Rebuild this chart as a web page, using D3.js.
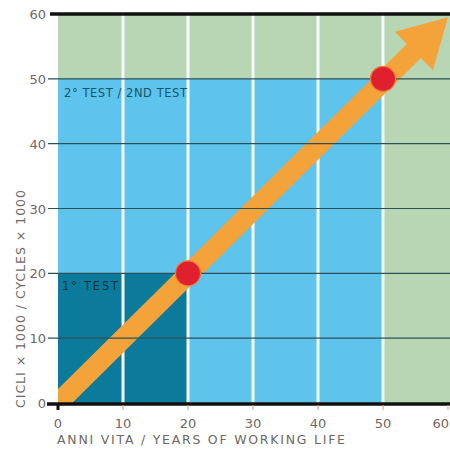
<!DOCTYPE html>
<html>
<head>
<meta charset="utf-8">
<script src="https://cdn.jsdelivr.net/npm/d3@7"></script>
<style>
  body { margin: 0; background: #fff; }
  svg { display: block; font-family: 'DejaVu Sans', 'Liberation Sans', Arial, sans-serif; }
</style>
</head>
<body>
<div id="chart"></div>
<script>
// data
const xTicks = [0, 10, 20, 30, 40, 50, 60];
const yTicks = [0, 10, 20, 30, 40, 50, 60];
const testNames = ['1° TEST', '2° TEST / 2ND TEST'];
const testYears = [20, 50];
const testCycles = [20, 50];
const arrowFrom = [0, 0];
const arrowTo = [60, 59.5];

const width = 450;
const height = 454;

const x = d3.scaleLinear().domain([0, 60]).range([58, 448]);
const y = d3.scaleLinear().domain([0, 60]).range([403, 14]);

const svg = d3
  .select('#chart')
  .append('svg')
  .attr('width', width)
  .attr('height', height);

svg.append('defs')
  .append('clipPath')
  .attr('id', 'plot')
  .append('rect')
  .attr('x', x(0))
  .attr('y', y(60))
  .attr('width', x(60) - x(0) + 10)
  .attr('height', y(0) - y(60));

const plot = svg.append('g').attr('clip-path', 'url(#plot)');

// background: green everywhere, blue up to 2nd test, dark up to 1st test
plot.append('rect')
  .attr('x', x(0)).attr('y', y(60))
  .attr('width', x(60) - x(0) + 10).attr('height', y(0) - y(60))
  .attr('fill', '#b8d6b4');

const shades = ['#0c7b9b', '#5fc4ec'];
plot.selectAll('rect.zone')
  .data(d3.range(testYears.length).reverse())
  .join('rect')
  .attr('class', 'zone')
  .attr('x', x(0))
  .attr('y', (i) => y(testCycles[i]))
  .attr('width', (i) => x(testYears[i]) - x(0))
  .attr('height', (i) => y(0) - y(testCycles[i]))
  .attr('fill', (i) => shades[i]);

// white vertical grid
plot.selectAll('line.vgrid')
  .data(xTicks.filter((d) => d > 0 && d < 60))
  .join('line')
  .attr('class', 'vgrid')
  .attr('x1', (d) => x(d)).attr('x2', (d) => x(d))
  .attr('y1', y(60)).attr('y2', y(0))
  .attr('stroke', '#f4fbfd')
  .attr('stroke-width', 3);

// dark horizontal grid incl. left ticks
svg.selectAll('line.hgrid')
  .data(yTicks.filter((d) => d > 0 && d < 60))
  .join('line')
  .attr('class', 'hgrid')
  .attr('x1', 48).attr('x2', width)
  .attr('y1', (d) => y(d)).attr('y2', (d) => y(d))
  .attr('stroke', '#2d5058')
  .attr('stroke-width', 1.2);

// tests labels
const labelPos = [[62, y(20) + 17], [64, y(50) + 18]];
svg.selectAll('text.test')
  .data(testNames)
  .join('text')
  .attr('class', 'test')
  .attr('x', (d, i) => labelPos[i][0])
  .attr('y', (d, i) => labelPos[i][1])
  .attr('fill', (d, i) => (i === 0 ? '#0b3542' : '#14566a'))
  .attr('font-size', 11.5)
  .attr('textLength', (d, i) => (i === 0 ? 56 : 123))
  .text((d) => d);

// arrow
const p0 = [x(arrowFrom[0]), y(arrowFrom[1])];
const p1 = [x(arrowTo[0]), y(arrowTo[1])];
const dx = p1[0] - p0[0], dy = p1[1] - p0[1];
const len = Math.hypot(dx, dy);
const ux = dx / len, uy = dy / len;
const headLen = 48, headHalf = 27, shaftHalf = 10;
const bx = p1[0] - ux * headLen, by = p1[1] - uy * headLen;
const nx = -uy, ny = ux;
const pts = [
  [p0[0] - ux * 20 + nx * shaftHalf, p0[1] - uy * 20 + ny * shaftHalf],
  [bx + nx * shaftHalf, by + ny * shaftHalf],
  [bx + nx * headHalf, by + ny * headHalf],
  p1,
  [bx - nx * headHalf, by - ny * headHalf],
  [bx - nx * shaftHalf, by - ny * shaftHalf],
  [p0[0] - ux * 20 - nx * shaftHalf, p0[1] - uy * 20 - ny * shaftHalf],
];
plot.append('path')
  .attr('d', d3.line()(pts) + 'Z')
  .attr('fill', '#f4a23a');

// red test points
svg.selectAll('circle')
  .data(testYears)
  .join('circle')
  .attr('cx', (d) => x(d))
  .attr('cy', (d, i) => y(testCycles[i]))
  .attr('r', 12.5)
  .attr('fill', '#e0202f')
  .attr('stroke', '#ec7a3a')
  .attr('stroke-width', 1.2);

// top and bottom black rules
svg.append('line')
  .attr('x1', 50).attr('x2', width)
  .attr('y1', y(60)).attr('y2', y(60))
  .attr('stroke', '#111').attr('stroke-width', 3.5);
svg.append('line')
  .attr('x1', 47).attr('x2', width)
  .attr('y1', y(0) + 1).attr('y2', y(0) + 1)
  .attr('stroke', '#111').attr('stroke-width', 3.5);

// x ticks
svg.selectAll('line.xtick')
  .data(xTicks)
  .join('line')
  .attr('class', 'xtick')
  .attr('x1', (d) => x(d)).attr('x2', (d) => x(d))
  .attr('y1', y(0) + 2).attr('y2', y(0) + 7)
  .attr('stroke', (d) => (d === 0 ? '#111' : '#c9a08a'))
  .attr('stroke-width', (d) => (d === 0 ? 3 : 1));

const tickColor = '#6e6863';
svg.selectAll('text.xlab')
  .data(xTicks)
  .join('text')
  .attr('class', 'xlab')
  .attr('x', (d) => (d === 60 ? width - 1 : x(d)))
  .attr('y', y(0) + 25)
  .attr('text-anchor', (d) => (d === 60 ? 'end' : 'middle'))
  .attr('fill', tickColor)
  .attr('font-size', 13)
  .text((d) => d);

svg.selectAll('text.ylab')
  .data(yTicks)
  .join('text')
  .attr('class', 'ylab')
  .attr('x', 46)
  .attr('y', (d) => y(d) + 5)
  .attr('text-anchor', 'end')
  .attr('fill', tickColor)
  .attr('font-size', 13)
  .text((d) => d);

// axis titles
svg.append('text')
  .attr('x', 57)
  .attr('y', 444)
  .attr('fill', tickColor)
  .attr('font-size', 12.5)
  .attr('textLength', 288)
  .text('ANNI VITA / YEARS OF WORKING LIFE');

svg.append('text')
  .attr('transform', 'translate(25,' + 299 + ') rotate(-90)')
  .attr('text-anchor', 'middle')
  .attr('fill', tickColor)
  .attr('font-size', 12.5)
  .attr('textLength', 218)
  .text('CICLI × 1000 / CYCLES × 1000');
</script>
</body>
</html>
